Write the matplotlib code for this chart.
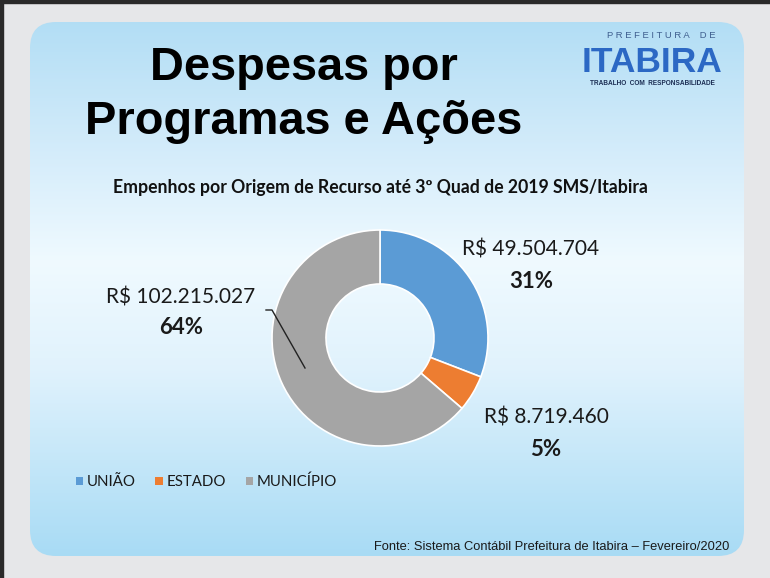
import numpy as np
import matplotlib
matplotlib.use("Agg")
import matplotlib.pyplot as plt
from matplotlib import font_manager
from matplotlib.patches import FancyBboxPatch, Rectangle

# data
categories = ["UNIÃO", "ESTADO", "MUNICÍPIO"]
values = [49504704, 8719460, 102215027]
value_labels = ["R$ 49.504.704", "R$ 8.719.460", "R$ 102.215.027"]
pct_labels = ["31%", "5%", "64%"]
colors = ["#5b9bd5", "#ed7d31", "#a5a5a5"]


def pick_font(names):
    for n in names:
        try:
            font_manager.findfont(font_manager.FontProperties(family=n),
                                  fallback_to_default=False)
            return n
        except Exception:
            pass
    return "Liberation Sans"


NARROW = pick_font(["Liberation Sans Narrow", "Arial Narrow", "DejaVu Sans Condensed"])
narrow_ok = NARROW != "Liberation Sans"

W, H = 770, 578
fig = plt.figure(figsize=(W / 100, H / 100), dpi=100)
fig.patch.set_facecolor("#e6e7e9")

# background axes in pixel coordinates
bg = fig.add_axes([0, 0, 1, 1])
bg.set_xlim(0, W)
bg.set_ylim(H, 0)
bg.axis("off")
bg.set_zorder(0)

# dark frame at top / left
bg.add_patch(Rectangle((0, 0), W, 3, color="#2a2a2a", zorder=1))
bg.add_patch(Rectangle((0, 0), 3, H, color="#2a2a2a", zorder=1))

# rounded panel with vertical gradient
panel = FancyBboxPatch((30, 22), 714, 534, boxstyle="round,pad=0,rounding_size=26",
                       facecolor="none", edgecolor="none", zorder=2)
bg.add_patch(panel)
ys = np.linspace(0, 1, 300)
stops_y = [0.0, 0.22, 0.45, 0.65, 1.0]
stops_c = np.array([[0.70, 0.87, 0.96],
                    [0.82, 0.92, 0.98],
                    [0.94, 0.98, 1.00],
                    [0.88, 0.95, 0.99],
                    [0.66, 0.86, 0.96]])
grad = np.stack([np.interp(ys, stops_y, stops_c[:, k]) for k in range(3)], axis=-1)
grad = np.repeat(grad[:, None, :], 2, axis=1)
im = bg.imshow(grad, extent=(30, 744, 556, 22), aspect="auto", zorder=2,
               interpolation="bilinear")
im.set_clip_path(panel)

# title
bg.text(304, 80, "Despesas por", ha="center", va="baseline", fontsize=33.8,
        fontweight="bold", family="Liberation Sans", color="black", zorder=5)
bg.text(304, 134, "Programas e Ações", ha="center", va="baseline", fontsize=33.8,
        fontweight="bold", family="Liberation Sans", color="black", zorder=5)

# logo
bg.text(661, 38.5, "P R E F E I T U R A    D E", ha="center", va="baseline", fontsize=6.8,
        family="Liberation Sans", color="#3f5f8f", zorder=5)
bg.text(651.5, 72, "ITABIRA", ha="center", va="baseline",
        fontsize=31 if narrow_ok else 25.5, fontweight="bold",
        family=NARROW, color="#2c68c4", zorder=5)
bg.text(652, 85, "TRABALHO  COM  RESPONSABILIDADE", ha="center", va="baseline",
        fontsize=5.6 if narrow_ok else 4.7, fontweight="bold", family=NARROW,
        color="#1d2f55", zorder=5)

# subtitle
bg.text(380, 188, "Empenhos por Origem de Recurso até 3º Quad de 2019 SMS/Itabira",
        ha="center", va="center", fontsize=12.7, fontweight="bold", family="Lato",
        color="#111111", zorder=5)

# footer
bg.text(729, 550, "Fonte: Sistema Contábil Prefeitura de Itabira – Fevereiro/2020",
        ha="right", va="baseline", fontsize=11 if narrow_ok else 9.3, family=NARROW,
        color="#1a1a1a", zorder=5)

# donut
cx, cy, r = 380, 338, 108
ax = fig.add_axes([(cx - r) / W, (H - cy - r) / H, 2 * r / W, 2 * r / H])
ax.set_zorder(1)
wedges, _ = ax.pie(values, colors=colors, startangle=90, counterclock=False,
                   radius=1, wedgeprops=dict(width=0.5, edgecolor="white", linewidth=1.2))
ax.set_xlim(-1, 1)
ax.set_ylim(-1, 1)
ax.set_aspect("equal")
ax.axis("off")

# labels (pixel positions of the Excel data labels)
label_pos = [(531, 250), (546, 418), (181, 297)]
for (lx, ly), vl, pl in zip(label_pos, value_labels, pct_labels):
    bg.text(lx, ly, vl, ha="center", va="center", fontsize=15, family="Lato",
            color="#1a1a1a", zorder=5)
    bg.text(lx, ly + 31, pl, ha="center", va="center", fontsize=16, fontweight="bold",
            family="Lato", color="#1a1a1a", zorder=5)

# leader line for MUNICÍPIO (drawn above the donut)
ax.plot([266, 272, 305], [310, 310, 368], color="#222222", lw=1,
        transform=bg.transData, clip_on=False, zorder=6)

# legend
leg = bg.legend(wedges, categories, loc="center left",
                bbox_to_anchor=(62 / W, 1 - 482 / H),
                bbox_transform=fig.transFigure, ncol=3, frameon=False,
                handlelength=0.5, handleheight=0.5, handletextpad=0.25,
                columnspacing=1.3, prop=dict(family="Lato", size=10.8))
for t in leg.get_texts():
    t.set_color("#1a1a1a")
for p in leg.get_patches():
    p.set_edgecolor("none")

fig.savefig("out.png", dpi=100)
